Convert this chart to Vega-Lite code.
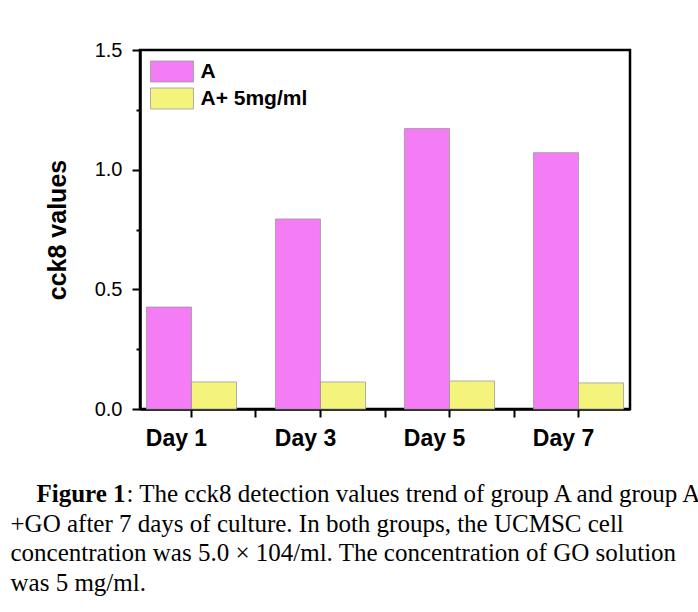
{
  "$schema": "https://vega.github.io/schema/vega-lite/v6.json",
  "width": 490,
  "height": 359,
  "autosize": {"type": "none"},
  "padding": {"left": 140, "top": 50, "right": 68, "bottom": 203},
  "background": "white",
  "config": {
    "view": {"stroke": "black", "strokeWidth": 2.5},
    "font": "Liberation Sans"
  },
  "data": {
    "values": [
      {"day": "Day 1", "group": "A", "value": 0.426},
      {"day": "Day 1", "group": "A+ 5mg/ml", "value": 0.113},
      {"day": "Day 3", "group": "A", "value": 0.794},
      {"day": "Day 3", "group": "A+ 5mg/ml", "value": 0.113},
      {"day": "Day 5", "group": "A", "value": 1.172},
      {"day": "Day 5", "group": "A+ 5mg/ml", "value": 0.117},
      {"day": "Day 7", "group": "A", "value": 1.071},
      {"day": "Day 7", "group": "A+ 5mg/ml", "value": 0.109}
    ]
  },
  "layer": [
    {
      "mark": {"type": "bar"},
      "encoding": {
        "x": {
          "field": "day", "type": "nominal",
          "scale": {"paddingInner": 0.302, "paddingOuter": 0.05},
          "axis": {
            "orient": "bottom",
            "labelAngle": 0,
            "labelFont": "Liberation Sans", "labelFontSize": 23, "labelFontWeight": "bold", "labelColor": "black",
            "labelPadding": 10, "labelOffset": -15,
            "tickSize": 8, "tickWidth": 2, "tickColor": "black",
            "domainColor": "black", "domainWidth": 2.5,
            "grid": false,
            "title": [
              "+GO after 7 days of culture. In both groups, the UCMSC cell",
              "concentration was 5.0 × 104/ml. The concentration of GO solution",
              "was 5 mg/ml."
            ],
            "titleX": -130, "titleY": 122,
            "titleAlign": "left", "titleBaseline": "alphabetic",
            "titleFont": "Liberation Serif", "titleFontSize": 25, "titleFontWeight": "normal",
            "titleColor": "black", "titleLineHeight": 29.6
          }
        },
        "xOffset": {"field": "group", "type": "nominal", "scale": {"paddingInner": 0, "paddingOuter": 0}},
        "y": {
          "field": "value", "type": "quantitative",
          "scale": {"domain": [0, 1.5], "nice": false},
          "axis": {
            "orient": "left",
            "values": [0, 0.25, 0.5, 0.75, 1, 1.25, 1.5],
            "labelExpr": "datum.value % 0.5 == 0 ? format(datum.value, '.1f') : ''",
            "tickSize": {"condition": {"test": "datum.value % 0.5 != 0", "value": 4}, "value": 8},
            "tickWidth": 2, "tickColor": "black",
            "domainColor": "black", "domainWidth": 2.5,
            "labelFont": "Liberation Sans", "labelFontSize": 20, "labelColor": "black", "labelPadding": 10,
            "grid": false,
            "title": "cck8 values",
            "titleFont": "Liberation Sans", "titleFontSize": 25, "titleFontWeight": "bold", "titleColor": "black",
            "titlePadding": 24
          }
        },
        "color": {
          "field": "group", "type": "nominal",
          "scale": {"domain": ["A", "A+ 5mg/ml"], "range": ["#F47CF4", "#F4F47C"]},
          "legend": {
            "title": null,
            "orient": "none",
            "legendX": 20.5,
            "legendY": 10,
            "padding": 0,
            "symbolType": "M-2,-0.976H2V0.976H-2Z",
            "symbolSize": 462,
            "symbolStrokeColor": "#9a9a9a",
            "symbolStrokeWidth": 0.8,
            "symbolOpacity": 1,
            "labelFont": "Liberation Sans", "labelFontSize": 21, "labelFontWeight": "bold", "labelColor": "black",
            "labelOffset": 17,
            "rowPadding": 2
          }
        }
      }
    },
    {
      "mark": {"type": "bar", "filled": false, "stroke": "#9a9a9a", "strokeWidth": 0.8},
      "encoding": {
        "x": {
          "field": "day", "type": "nominal",
          "scale": {"paddingInner": 0.302, "paddingOuter": 0.05},
          "axis": {
            "orient": "bottom",
            "values": ["Day 3", "Day 5", "Day 7"],
            "bandPosition": -0.2163,
            "labels": false,
            "domain": false,
            "tickSize": 8, "tickWidth": 2, "tickColor": "black",
            "grid": false,
            "title": "Figure 1",
            "titleX": -104, "titleY": 92,
            "titleAlign": "left", "titleBaseline": "alphabetic",
            "titleFont": "Liberation Serif", "titleFontSize": 25, "titleFontWeight": "bold",
            "titleColor": "black"
          }
        },
        "xOffset": {"field": "group", "type": "nominal", "scale": {"paddingInner": 0, "paddingOuter": 0}},
        "y": {
          "field": "value", "type": "quantitative",
          "scale": {"domain": [0, 1.5], "nice": false},
          "axis": {
            "orient": "right",
            "ticks": false, "labels": false, "domain": false, "grid": false,
            "title": ": The cck8 detection values trend of group A and group A",
            "titleAngle": 0,
            "titleX": -504, "titleY": 451,
            "titleAlign": "left", "titleBaseline": "alphabetic",
            "titleFont": "Liberation Serif", "titleFontSize": 25, "titleFontWeight": "normal",
            "titleColor": "black"
          }
        }
      }
    }
  ],
  "resolve": {"axis": {"x": "independent", "y": "independent"}}
}
